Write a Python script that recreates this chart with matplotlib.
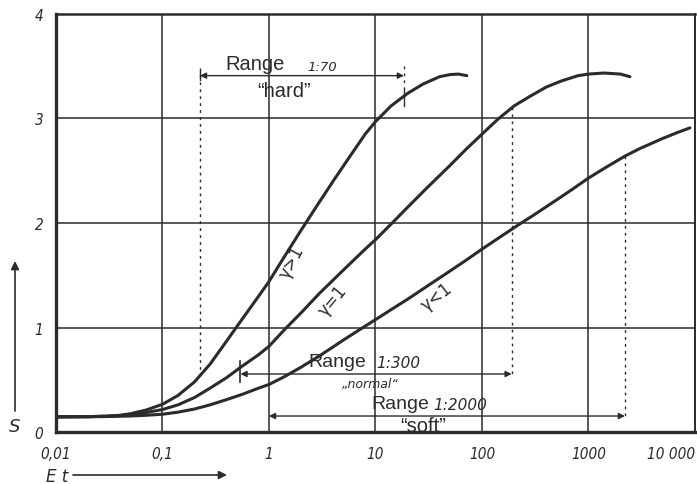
import matplotlib.pyplot as plt

# characteristic curves (exposure E*t, density S)
hard_et = [0.01, 0.02, 0.03, 0.04, 0.05, 0.07, 0.1, 0.14, 0.2, 0.28, 0.4, 0.56, 0.8, 1.0,
           1.4, 2.0, 2.8, 4.0, 5.6, 8.0, 10, 14, 20, 28, 40, 50, 60, 72]
hard_s = [0.145, 0.147, 0.152, 0.16, 0.175, 0.21, 0.265, 0.35, 0.48, 0.65, 0.87, 1.08, 1.3, 1.44,
          1.68, 1.93, 2.16, 2.4, 2.62, 2.85, 2.97, 3.12, 3.24, 3.33, 3.40, 3.42, 3.425, 3.41]

normal_et = [0.01, 0.02, 0.03, 0.04, 0.05, 0.07, 0.1, 0.14, 0.2, 0.28, 0.4, 0.56, 0.8, 1.0,
             1.4, 2.0, 3.0, 5.0, 8.0, 10, 15, 20, 30, 50, 70, 100, 140, 200, 280, 400,
             560, 800, 1000, 1400, 2000, 2450]
normal_s = [0.145, 0.147, 0.151, 0.158, 0.167, 0.186, 0.215, 0.26, 0.33, 0.42, 0.52, 0.63, 0.74, 0.82,
            0.98, 1.14, 1.33, 1.55, 1.75, 1.84, 2.02, 2.15, 2.33, 2.55, 2.70, 2.85, 2.99, 3.12, 3.21, 3.30,
            3.36, 3.41, 3.425, 3.435, 3.425, 3.40]

soft_et = [0.01, 0.02, 0.03, 0.05, 0.07, 0.1, 0.14, 0.2, 0.28, 0.4, 0.56, 0.8, 1.0, 1.4, 2.0,
           3.0, 5.0, 7.5, 10, 15, 20, 30, 50, 70, 100, 150, 218, 300, 500, 700, 1000, 1500,
           2200, 3000, 5000, 7000, 8970]
soft_s = [0.145, 0.146, 0.148, 0.153, 0.16, 0.17, 0.19, 0.22, 0.26, 0.31, 0.36, 0.42, 0.455, 0.53, 0.62,
          0.73, 0.88, 0.995, 1.075, 1.19, 1.27, 1.39, 1.54, 1.64, 1.75, 1.87, 1.98, 2.07, 2.22, 2.32, 2.43, 2.54,
          2.64, 2.71, 2.81, 2.87, 2.91]

# useful ranges: left end, right end, level of the arrow
range_left = [0.225, 0.54, 1.0]
range_right = [18.5, 190, 2200]
range_level = [3.41, 0.555, 0.153]
range_ratio = ['1:70', '1:300', '1:2000']
range_name = ['\u201chard\u201d', '\u201enormal\u201c', '\u201csoft\u201d']

# dotted drop lines: position, upper end, lower end
drop_x = [0.225, 18.5, 190, 2200]
drop_top = [3.48, 3.5, 3.11, 2.64]
drop_bottom = [0.54, 3.21, 0.555, 0.153]

x_ticks = [0.01, 0.1, 1, 10, 100, 1000, 10000]
x_labels = ['0,01', '0,1', '1', '10', '100', '1000', '10 000']
y_ticks = [0, 1, 2, 3, 4]

ink = '#2b2b2b'
num_font = dict(fontstyle='italic', fontsize=11, family='DejaVu Sans', fontstretch='condensed')

fig = plt.figure(figsize=(6.97, 4.85), dpi=100)
ax = fig.add_axes([0.0803, 0.1072, 0.9168, 0.8619])

ax.plot(hard_et, hard_s, color=ink, lw=2.2, solid_capstyle='round', solid_joinstyle='round')
ax.plot(normal_et, normal_s, color=ink, lw=2.2, solid_capstyle='round', solid_joinstyle='round')
ax.plot(soft_et, soft_s, color=ink, lw=2.2, solid_capstyle='round', solid_joinstyle='round')

ax.set_xscale('log')
ax.set_xlim(0.01, 10000)
ax.set_ylim(0, 4)
ax.set_xticks(x_ticks)
ax.set_xticklabels(x_labels, **num_font)
ax.get_xticklabels()[-1].set_horizontalalignment('right')
ax.set_yticks(y_ticks)
ax.set_yticklabels([str(v) for v in y_ticks], **num_font)
ax.minorticks_off()
ax.tick_params(length=0, colors=ink)
ax.tick_params(axis='x', pad=10)
ax.tick_params(axis='y', pad=9)
ax.grid(True, color=ink, lw=1.1)

for side, lw in [('left', 2.4), ('bottom', 2.4), ('top', 1.8), ('right', 1.4)]:
    ax.spines[side].set_linewidth(lw)
    ax.spines[side].set_color(ink)

# range arrows with dotted drop lines
for x, top, bottom in zip(drop_x, drop_top, drop_bottom):
    ax.plot([x, x], [top, bottom], color=ink, lw=1.0, linestyle=(0, (2, 3)))
ax.plot([range_right[0], range_right[0]], [3.12, 3.27], color=ink, lw=1.0)
ax.plot([range_left[0], range_left[0]], [3.37, 3.45], color=ink, lw=1.0)
ax.plot([range_left[1], range_left[1]], [0.48, 0.68], color=ink, lw=1.2)

for left, right, level in zip(range_left, range_right, range_level):
    ax.annotate('', xy=(left, level), xytext=(right, level),
                arrowprops=dict(arrowstyle='<|-|>', color=ink, lw=1.0,
                                mutation_scale=9, shrinkA=0, shrinkB=0))

text_kw = dict(color=ink, ha='center', va='center')
ax.text(0.74, 3.53, 'Range', fontsize=14.5, family='Liberation Sans', **text_kw)
ax.text(3.15, 3.50, range_ratio[0], fontsize=9.5, fontstyle='italic', **text_kw)
ax.text(1.38, 3.27, range_name[0], fontsize=14.5, family='Liberation Sans', **text_kw)

ax.text(4.35, 0.67, 'Range', fontsize=14, family='Liberation Sans', **text_kw)
ax.text(16.5, 0.665, range_ratio[1], fontsize=11, fontstyle='italic', **text_kw)
ax.text(8.9, 0.46, range_name[1], fontsize=9, fontstyle='italic', **text_kw)

ax.text(17.0, 0.27, 'Range', fontsize=14, family='Liberation Sans', **text_kw)
ax.text(62, 0.265, range_ratio[2], fontsize=11, fontstyle='italic', **text_kw)
ax.text(27.9, 0.06, range_name[2], fontsize=14.5, family='Liberation Sans', **text_kw)

# gamma labels along the curves
ax.text(1.64, 1.63, '\u03b3>1', rotation=62, fontsize=12, **text_kw)
ax.text(4.0, 1.26, '\u03b3=1', rotation=50, fontsize=12, **text_kw)
ax.text(37.8, 1.30, '\u03b3<1', rotation=38, fontsize=12, **text_kw)

# axis names with arrows, outside the plot
fig.text(15 / 697, 58 / 485, 'S', fontsize=13, fontstyle='italic', color=ink,
         ha='center', va='center')
fig.add_artist(plt.Annotation('', xy=(15 / 697, 223 / 485), xytext=(15 / 697, 73 / 485),
                              xycoords='figure fraction',
                              arrowprops=dict(arrowstyle='-|>', color=ink, lw=1.2,
                                              mutation_scale=12, shrinkA=0, shrinkB=0)))
fig.text(57 / 697, 8 / 485, 'E t', fontsize=12, fontstyle='italic', color=ink,
         ha='center', va='center')
fig.add_artist(plt.Annotation('', xy=(227 / 697, 9 / 485), xytext=(73 / 697, 9 / 485),
                              xycoords='figure fraction',
                              arrowprops=dict(arrowstyle='-|>', color=ink, lw=1.2,
                                              mutation_scale=12, shrinkA=0, shrinkB=0)))

fig.savefig('out.png', dpi=100)
